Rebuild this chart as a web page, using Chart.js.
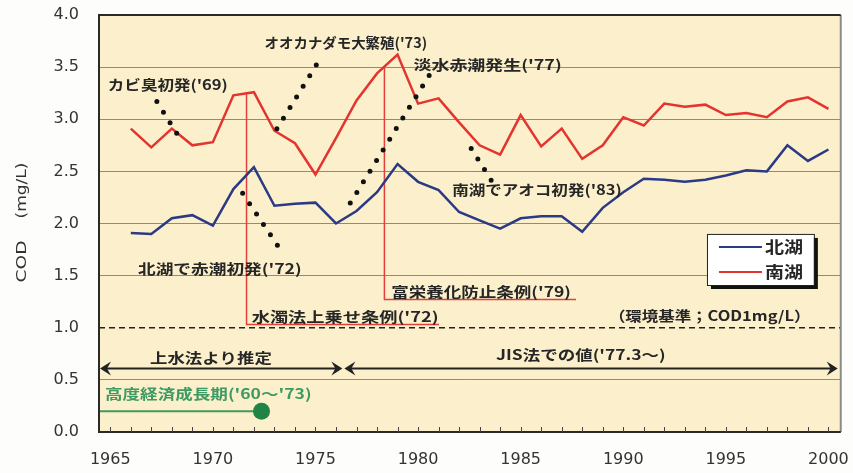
<!DOCTYPE html>
<html>
<head>
<meta charset="utf-8">
<script src="https://cdn.jsdelivr.net/npm/chart.js@4.4.1/dist/chart.umd.min.js"></script>
<style>
  html, body { margin: 0; padding: 0; background: #fdfdfb; }
</style>
</head>
<body>
<canvas id="chart" width="853" height="473"></canvas>
<script>
// 年度
const years = [1966, 1967, 1968, 1969, 1970, 1971, 1972, 1973, 1974, 1975,
               1976, 1977, 1978, 1979, 1980, 1981, 1982, 1983, 1984, 1985,
               1986, 1987, 1988, 1989, 1990, 1991, 1992, 1993, 1994, 1995,
               1996, 1997, 1998, 1999, 2000];
// COD (mg/L)
const north = [1.91, 1.90, 2.05, 2.08, 1.98, 2.33, 2.54, 2.17, 2.19, 2.20,
               2.00, 2.12, 2.30, 2.57, 2.40, 2.32, 2.11, 2.03, 1.95, 2.05,
               2.07, 2.07, 1.92, 2.15, 2.30, 2.43, 2.42, 2.40, 2.42, 2.46,
               2.51, 2.50, 2.75, 2.60, 2.71];
const south = [2.91, 2.73, 2.91, 2.75, 2.78, 3.23, 3.26, 2.89, 2.77, 2.47,
               2.82, 3.18, 3.44, 3.62, 3.15, 3.20, 2.97, 2.75, 2.66, 3.04,
               2.74, 2.91, 2.62, 2.75, 3.02, 2.94, 3.15, 3.12, 3.14, 3.04,
               3.06, 3.02, 3.17, 3.21, 3.10];
const seriesNames = ['北湖', '南湖'];
const xTicks = [1965, 1970, 1975, 1980, 1985, 1990, 1995, 2000];
const yTicks = [0, 0.5, 1.0, 1.5, 2.0, 2.5, 3.0, 3.5, 4.0];
const standard = 1.0; // 環境基準

// 注記の文字 (x1〜x2: 年, y: COD)
const notes = [
  { text: "カビ臭初発('69)", x1: 1964.88, x2: 1970.73, y: 3.33 },
  { text: "オオカナダモ大繁殖('73)", x1: 1972.52, x2: 1980.44, y: 3.73 },
  { text: "淡水赤潮発生('77)", x1: 1979.78, x2: 1987.0, y: 3.52 },
  { text: "北湖で赤潮初発('72)", x1: 1966.35, x2: 1974.33, y: 1.57 },
  { text: "南湖でアオコ初発('83)", x1: 1981.66, x2: 1989.93, y: 2.32 },
  { text: "水濁法上乗せ条例('72)", x1: 1971.89, x2: 1981.0, y: 1.11 },
  { text: "富栄養化防止条例('79)", x1: 1978.69, x2: 1987.45, y: 1.35 },
  { text: "（環境基準；COD1mg/L）", x1: 1989.3, x2: 1999.12, y: 1.12 },
  { text: "上水法より推定", x1: 1966.94, x2: 1972.87, y: 0.71 },
  { text: "JIS法での値('77.3〜)", x1: 1983.8, x2: 1992.07, y: 0.74 },
  { text: "高度経済成長期('60〜'73)", x1: 1964.74, x2: 1974.81, y: 0.37, green: true }
];
// 点線 [x1, y1, x2, y2]
const dotLines = [
  [1967.27, 3.17, 1968.25, 2.86],
  [1975.04, 3.52, 1973.0, 2.87],
  [1980.54, 3.42, 1976.55, 2.15],
  [1971.45, 2.29, 1973.15, 1.79],
  [1982.59, 2.72, 1983.61, 2.40]
];
// 条例の引出線 [x, yTop, yBottom, xEnd]
const ordinances = [
  [1971.64, 3.26, 1.03, 1981.02],
  [1978.36, 3.50, 1.27, 1987.70]
];
// 測定法の矢印 [x1, x2]
const methodSpans = [[1964.45, 1976.36], [1976.36, 2000.5]];
const methodY = 0.61;
const growth = { x1: 1964.45, x2: 1972.37, y: 0.20 };
const legendBox = { x1: 1994.08, x2: 1999.29, y1: 1.90, y2: 1.41 };

const colors = ['#2c3a86', '#e3342f'];
const jpFont = 'bold 14px "Noto Sans CJK JP", sans-serif';

function fitText(ctx, text, cx, cy, width) {
  const w = ctx.measureText(text).width;
  ctx.save();
  ctx.translate(cx, cy);
  ctx.scale(width / w, 1);
  ctx.textAlign = 'center';
  ctx.textBaseline = 'middle';
  ctx.fillText(text, 0, 0);
  ctx.restore();
}

function arrowHead(ctx, tip, y, dir) {
  ctx.beginPath();
  ctx.moveTo(tip, y);
  ctx.lineTo(tip - dir * 11, y - 7);
  ctx.lineTo(tip - dir * 7, y);
  ctx.lineTo(tip - dir * 11, y + 7);
  ctx.closePath();
  ctx.fill();
}

const decor = {
  id: 'decor',
  beforeDraw(chart) {
    const { ctx, chartArea: a } = chart;
    ctx.save();
    ctx.fillStyle = '#fdfdfb';
    ctx.fillRect(0, 0, chart.width, chart.height);
    ctx.fillStyle = '#fbf0cb';
    ctx.fillRect(a.left, a.top, a.right - a.left, a.bottom - a.top);
    ctx.restore();
  },
  beforeDatasetsDraw(chart) {
    const { ctx, chartArea: a, scales: { x, y } } = chart;
    ctx.save();
    // 環境基準の破線
    ctx.strokeStyle = '#222';
    ctx.lineWidth = 1.5;
    ctx.setLineDash([6, 4]);
    ctx.beginPath();
    ctx.moveTo(a.left, y.getPixelForValue(standard));
    ctx.lineTo(a.right, y.getPixelForValue(standard));
    ctx.stroke();
    ctx.setLineDash([]);

    // 条例の引出線
    ctx.strokeStyle = '#e2403a';
    ctx.lineWidth = 1.5;
    ordinances.forEach(([xv, yt, yb, xe]) => {
      ctx.beginPath();
      ctx.moveTo(x.getPixelForValue(xv), y.getPixelForValue(yt));
      ctx.lineTo(x.getPixelForValue(xv), y.getPixelForValue(yb));
      ctx.lineTo(x.getPixelForValue(xe), y.getPixelForValue(yb));
      ctx.stroke();
    });

    // 測定法の矢印
    const my = y.getPixelForValue(methodY);
    ctx.strokeStyle = '#222';
    ctx.fillStyle = '#222';
    ctx.lineWidth = 2;
    methodSpans.forEach(([x1, x2]) => {
      const p1 = x.getPixelForValue(x1), p2 = x.getPixelForValue(x2);
      ctx.beginPath();
      ctx.moveTo(p1 + 4, my);
      ctx.lineTo(p2 - 4, my);
      ctx.stroke();
      arrowHead(ctx, p1 + 1, my, -1);
      arrowHead(ctx, p2 - 1, my, 1);
    });

    // 高度経済成長期
    const gy = y.getPixelForValue(growth.y);
    ctx.strokeStyle = '#3f9a5e';
    ctx.lineWidth = 2;
    ctx.beginPath();
    ctx.moveTo(x.getPixelForValue(growth.x1), gy);
    ctx.lineTo(x.getPixelForValue(growth.x2), gy);
    ctx.stroke();
    ctx.fillStyle = '#1f8444';
    ctx.beginPath();
    ctx.arc(x.getPixelForValue(growth.x2), gy, 8.5, 0, Math.PI * 2);
    ctx.fill();
    ctx.restore();
  },
  afterDatasetsDraw(chart) {
    const { ctx, chartArea: a, scales: { x, y } } = chart;
    ctx.save();
    // 点線
    ctx.strokeStyle = '#111';
    ctx.lineWidth = 5;
    ctx.lineCap = 'round';
    ctx.setLineDash([0, 12.5]);
    dotLines.forEach(([x1, y1, x2, y2]) => {
      ctx.beginPath();
      ctx.moveTo(x.getPixelForValue(x1), y.getPixelForValue(y1));
      ctx.lineTo(x.getPixelForValue(x2), y.getPixelForValue(y2));
      ctx.stroke();
    });
    ctx.setLineDash([]);
    ctx.lineCap = 'butt';

    // 文字
    ctx.font = jpFont;
    notes.forEach(n => {
      ctx.fillStyle = n.green ? '#3d9a62' : '#262626';
      const p1 = x.getPixelForValue(n.x1), p2 = x.getPixelForValue(n.x2);
      fitText(ctx, n.text, (p1 + p2) / 2, y.getPixelForValue(n.y), p2 - p1);
    });

    // 凡例
    const lx1 = x.getPixelForValue(legendBox.x1), lx2 = x.getPixelForValue(legendBox.x2);
    const ly1 = y.getPixelForValue(legendBox.y1), ly2 = y.getPixelForValue(legendBox.y2);
    ctx.fillStyle = '#111';
    ctx.fillRect(lx1 + 4, ly1 + 4, lx2 - lx1, ly2 - ly1);
    ctx.fillStyle = '#fff';
    ctx.fillRect(lx1, ly1, lx2 - lx1, ly2 - ly1);
    ctx.strokeStyle = '#222';
    ctx.lineWidth = 1;
    ctx.strokeRect(lx1 + 0.5, ly1 + 0.5, lx2 - lx1, ly2 - ly1);
    chart.data.datasets.forEach((ds, i) => {
      const rowY = ly1 + 13 + i * 25;
      ctx.strokeStyle = ds.borderColor;
      ctx.lineWidth = 2;
      ctx.beginPath();
      ctx.moveTo(lx1 + 12, rowY);
      ctx.lineTo(lx1 + 55, rowY);
      ctx.stroke();
      ctx.fillStyle = '#262626';
      ctx.font = 'bold 16px "Noto Sans CJK JP", sans-serif';
      fitText(ctx, ds.label, lx1 + 77, rowY, 38);
    });

    // 枠
    ctx.lineWidth = 2;
    ctx.strokeStyle = '#8a8a86';
    ctx.beginPath();
    ctx.moveTo(a.right, a.top);
    ctx.lineTo(a.right, a.bottom);
    ctx.stroke();
    ctx.strokeStyle = '#2a2a2a';
    ctx.beginPath();
    ctx.moveTo(a.right, a.top);
    ctx.lineTo(a.left, a.top);
    ctx.lineTo(a.left, a.bottom);
    ctx.lineTo(a.right, a.bottom);
    ctx.stroke();

    // 年ごとの目盛
    ctx.lineWidth = 1;
    ctx.strokeStyle = '#444';
    for (let yr = xTicks[0]; yr <= xTicks[xTicks.length - 1]; yr++) {
      const px = Math.round(x.getPixelForValue(yr)) + 0.5;
      ctx.beginPath();
      ctx.moveTo(px, a.bottom);
      ctx.lineTo(px, a.bottom - 5);
      ctx.stroke();
    }

    // 縦軸タイトル
    const mid = (a.top + a.bottom) / 2;
    ctx.fillStyle = '#333';
    ctx.font = '14px "DejaVu Sans", sans-serif';
    ctx.translate(22, 0);
    ctx.rotate(-Math.PI / 2);
    fitText(ctx, 'COD', -(mid + 38), 0, 42);
    fitText(ctx, '(mg/L)', -(mid - 33), 0, 56);
    ctx.restore();
  }
};

const ctx = document.getElementById('chart').getContext('2d');
new Chart(ctx, {
  type: 'line',
  data: {
    datasets: [north, south].map((vals, i) => ({
      label: seriesNames[i],
      data: years.map((yr, j) => ({ x: yr, y: vals[j] })),
      borderColor: colors[i],
      backgroundColor: colors[i],
      borderWidth: 2.5,
      pointRadius: 0,
      tension: 0,
      fill: false
    }))
  },
  options: {
    responsive: false,
    animation: false,
    devicePixelRatio: 1,
    layout: { padding: { left: 0, right: 12, top: 15, bottom: 0 } },
    plugins: { legend: { display: false }, tooltip: { enabled: false } },
    scales: {
      x: {
        type: 'linear',
        min: 1964.45,
        max: 2000.6,
        afterBuildTicks: s => { s.ticks = xTicks.map(v => ({ value: v })); },
        afterFit: s => { s.height = 41; },
        ticks: {
          callback: v => String(v),
          font: { family: '"DejaVu Sans", sans-serif', size: 16 },
          color: '#333',
          padding: 4,
          maxRotation: 0
        },
        grid: {
          display: true,
          drawOnChartArea: false,
          drawTicks: true,
          tickLength: 14,
          color: 'rgba(0,0,0,0)',
          tickColor: 'rgba(0,0,0,0)'
        },
        border: { display: false }
      },
      y: {
        min: 0,
        max: 4,
        afterBuildTicks: s => { s.ticks = yTicks.map(v => ({ value: v })); },
        afterFit: s => { s.width = 99; },
        ticks: {
          callback: v => v.toFixed(1),
          font: { family: '"DejaVu Sans", sans-serif', size: 16 },
          color: '#333',
          padding: 4
        },
        grid: {
          color: c => (c.tick && c.tick.value === standard) ? 'rgba(0,0,0,0)' : '#8e8c82',
          lineWidth: 1,
          drawTicks: true,
          tickLength: 16,
          tickColor: 'rgba(0,0,0,0)'
        },
        border: { display: false }
      }
    }
  },
  plugins: [decor]
});
</script>
</body>
</html>
